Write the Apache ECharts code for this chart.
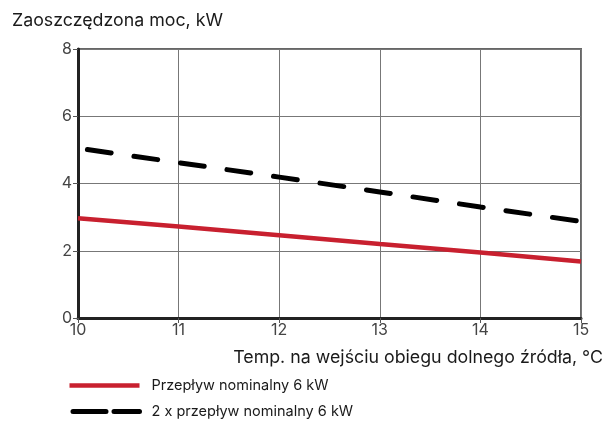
<!DOCTYPE html>
<html><head><meta charset="utf-8">
<script src="https://cdn.jsdelivr.net/npm/echarts@6/dist/echarts.min.js"></script>
<style>html,body{margin:0;padding:0;background:#fff}#c{width:606px;height:426px}</style>
</head><body><div id="c"></div>
<script>
const temps = [10, 11, 12, 13, 14, 15];
const nominal = [2.97, 2.72, 2.46, 2.2, 1.95, 1.68];
const doubleNominal = [5.05, 4.62, 4.19, 3.75, 3.3, 2.87];
const yTicks = [0, 2, 4, 6, 8];
const seriesNames = ['Przepływ nominalny 6 kW', '2 x przepływ nominalny 6 kW'];
const yTitle = 'Zaoszczędzona moc, kW';
const xTitle = 'Temp. na wejściu obiegu dolnego źródła, °C';

const font = 'Inter, Roboto, sans-serif';
const chart = echarts.init(document.getElementById('c'), null, {renderer: 'canvas'});
chart.setOption({
  animation: false,
  backgroundColor: '#fff',
  grid: {left: 78, right: 24, top: 49, bottom: 108, show: true, borderColor: '#666', borderWidth: 2, backgroundColor: 'transparent'},
  xAxis: {
    type: 'value', min: 10, max: 15, interval: 1,
    name: xTitle, nameLocation: 'end', nameGap: 22,
    nameTextStyle: {color: '#1a1a1a', fontSize: 17.8, fontFamily: font, align: 'right', verticalAlign: 'top', padding: [31, 0, 0, 0]},
    axisLine: {show: true, onZero: false, lineStyle: {color: '#222', width: 3}},
    axisTick: {show: true, length: 5, lineStyle: {color: '#555', width: 1}},
    axisLabel: {color: '#444', fontSize: 16, fontFamily: font, margin: 4},
    splitLine: {show: true, lineStyle: {color: '#777', width: 1}}
  },
  yAxis: {
    type: 'value', min: yTicks[0], max: yTicks[yTicks.length - 1], interval: 2,
    name: yTitle, nameLocation: 'end', nameGap: 19,
    nameTextStyle: {color: '#1a1a1a', fontSize: 17.8, fontFamily: font, align: 'left', padding: [0, 0, 0, -66]},
    axisLine: {show: true, lineStyle: {color: '#222', width: 3}},
    axisTick: {show: true, length: 5, lineStyle: {color: '#555', width: 1}},
    axisLabel: {color: '#444', fontSize: 16, fontFamily: font, margin: 6},
    splitLine: {show: true, lineStyle: {color: '#777', width: 1}}
  },
  legend: {
    orient: 'vertical', left: 67, top: 378, padding: 0, itemGap: 11,
    itemWidth: 70, itemHeight: 14,
    itemStyle: {opacity: 0},
    textStyle: {color: '#1a1a1a', fontSize: 14.5, fontFamily: font, padding: [0, 0, 0, 7]},
    data: [
      {name: seriesNames[0], lineStyle: {color: '#c8202f', width: 4.5}},
      {name: seriesNames[1], lineStyle: {color: '#000', width: 5, type: [33, 8]}}
    ]
  },
  series: [
    {
      name: seriesNames[0], type: 'line', showSymbol: false, symbol: 'none',
      data: temps.map((t, i) => [t, nominal[i]]),
      lineStyle: {color: '#c8202f', width: 4.5, cap: 'butt'},
      itemStyle: {color: '#c8202f'}
    },
    {
      name: seriesNames[1], type: 'line', showSymbol: false, symbol: 'none',
      data: temps.map((t, i) => [t, doubleNominal[i]]),
      lineStyle: {color: '#000', width: 5, type: [24, 23], dashOffset: 37.5, cap: 'round'},
      itemStyle: {color: '#000'}
    }
  ]
});
</script></body></html>
